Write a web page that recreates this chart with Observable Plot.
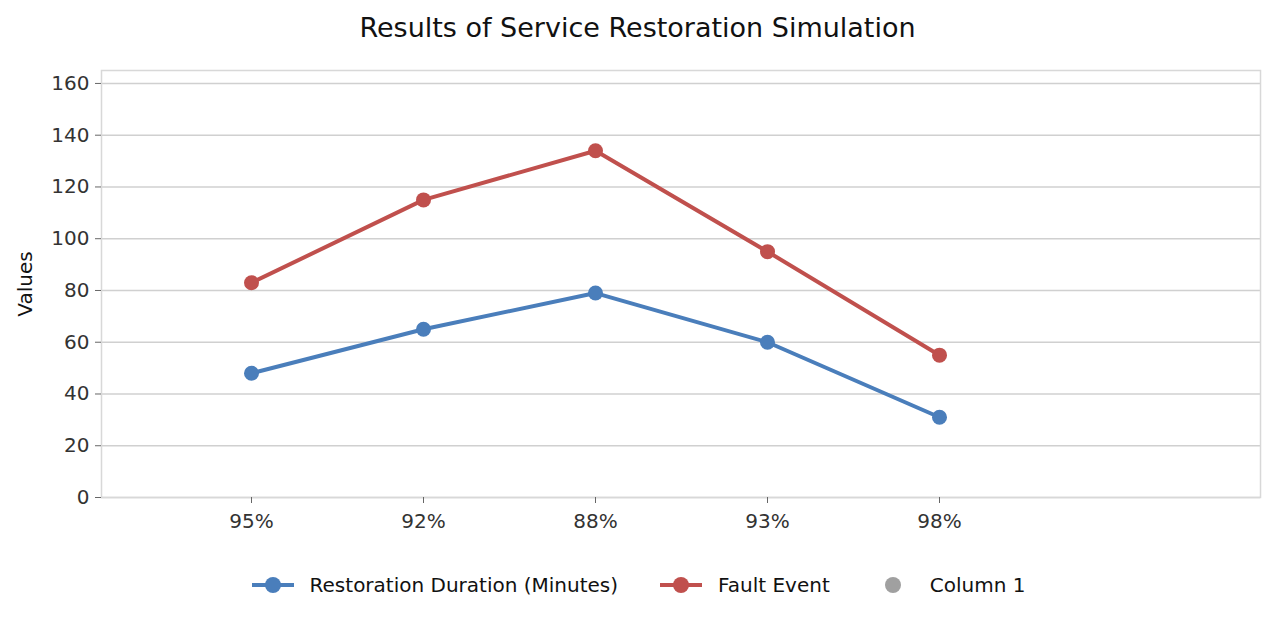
<!DOCTYPE html>
<html><head><meta charset="utf-8">
<script src="https://cdn.jsdelivr.net/npm/d3@7"></script>
<script src="https://cdn.jsdelivr.net/npm/@observablehq/plot@0.6"></script>
<style>
body{margin:0;background:#fff;font-family:"DejaVu Sans",sans-serif;}
#title{height:55px;line-height:56px;text-align:center;font-size:27px;color:#111;}
#legend{display:flex;justify-content:center;font-size:20px;color:#111;margin-top:26px;margin-left:0}
.item{display:flex;align-items:center;margin:0 20px;}
.item svg{margin-right:14px}
</style></head><body>
<div id="title">Results of Service Restoration Simulation</div>
<div id="chart"></div>
<div id="legend"></div>
<script>
const categories = ["95%","92%","88%","93%","98%",""];
const restoration = [48,65,79,60,31];
const fault = [83,115,134,95,55];
const yTicks = [0,20,40,60,80,100,120,140,160];
const seriesNames = ["Restoration Duration (Minutes)","Fault Event","Column 1"];
const colors = ["#4a7ebb","#c0504d","#a0a0a0"];

const data = [];
categories.slice(0,5).forEach((c,i)=>{
  data.push({x:c,y:restoration[i],s:seriesNames[0]});
  data.push({x:c,y:fault[i],s:seriesNames[1]});
});
const chart = Plot.plot({
  width:1275, height:492,
  marginLeft:101, marginRight:15, marginTop:15, marginBottom:50,
  style:{fontFamily:"DejaVu Sans",fontSize:"20px",color:"#333"},
  x:{type:"point",domain:categories,range:[163,1198],label:null},
  y:{domain:[0,165],ticks:yTicks,label:null},
  color:{domain:seriesNames,range:colors},
  marks:[
    Plot.gridY(yTicks,{stroke:"#d0d0d0",strokeOpacity:1,strokeWidth:1.5}),
    Plot.frame({stroke:"#d8d8d8",strokeWidth:1.5}),
    Plot.axisX(categories.slice(0,5),{tickSize:6,tickPadding:10,fontSize:20,stroke:"#666",fill:"#333"}),
    Plot.axisY({ticks:yTicks,tickSize:6,tickPadding:6,fontSize:20,stroke:"#666",fill:"#333",label:null}),
    Plot.text(["Values"],{frameAnchor:"left",textAnchor:"middle",dx:-76,rotate:-90,fontSize:20,fill:"#111"}),
    Plot.line(data,{x:"x",y:"y",z:"s",stroke:"s",strokeWidth:4}),
    Plot.dot(data,{x:"x",y:"y",fill:"s",r:7.5})
  ]
});
document.getElementById("chart").appendChild(chart);
const lg = document.getElementById("legend");
seriesNames.forEach((n,i)=>{
  const d=document.createElement("div");d.className="item";
  const line = i<2?`<line x1="2" x2="44" y1="10" y2="10" stroke="${colors[i]}" stroke-width="4"/>`:"";
  d.innerHTML=`<svg width="46" height="20">${line}<circle cx="23" cy="10" r="8" fill="${colors[i]}"/></svg><span>${n}</span>`;
  lg.appendChild(d);
});
</script></body></html>
